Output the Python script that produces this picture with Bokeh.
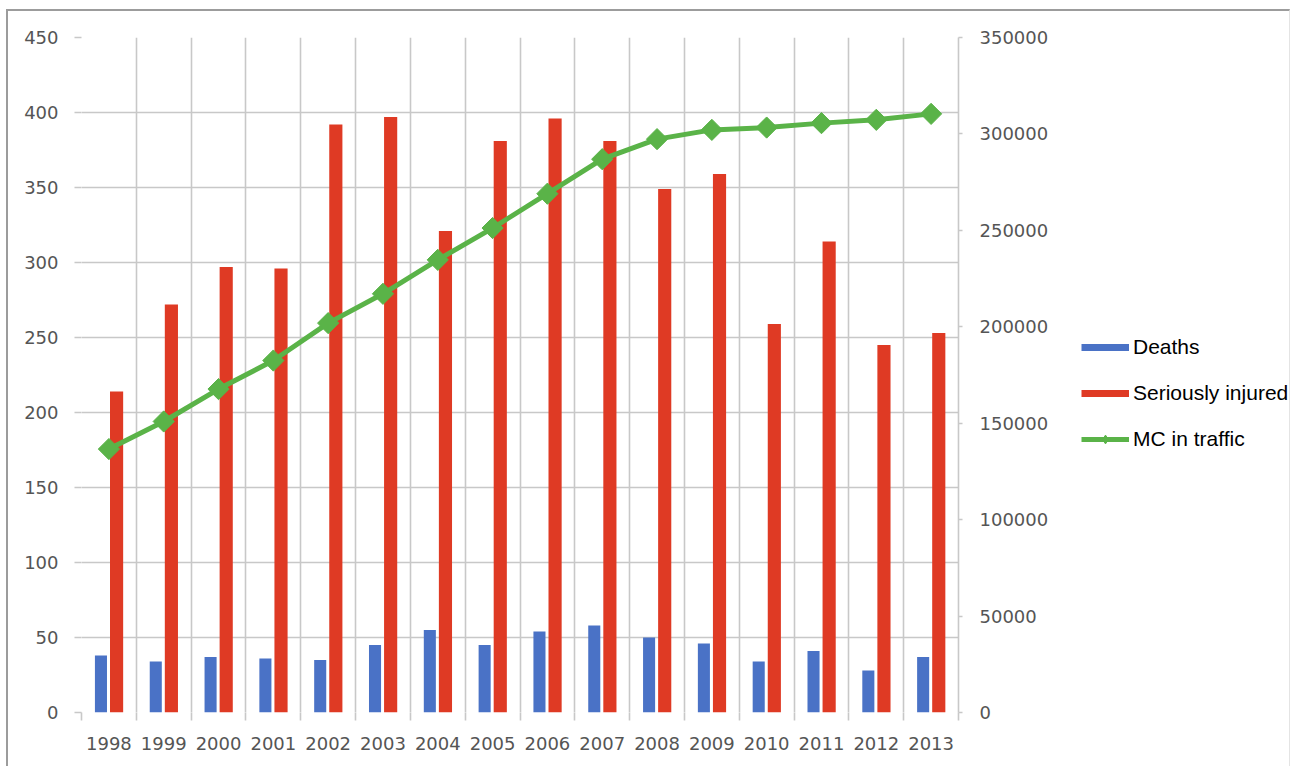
import numpy as np
from bokeh.plotting import figure
from bokeh.layouts import row
from bokeh.models import (ColumnDataSource, Range1d, LinearAxis, FixedTicker,
                          Legend, LegendItem, BasicTickFormatter)
from bokeh.embed import file_html
from bokeh.resources import INLINE

# ---- data ----
years = ["1998", "1999", "2000", "2001", "2002", "2003", "2004", "2005",
         "2006", "2007", "2008", "2009", "2010", "2011", "2012", "2013"]
deaths = [38, 34, 37, 36, 35, 45, 55, 45, 54, 58, 50, 46, 34, 41, 28, 37]
seriously_injured = [214, 272, 297, 296, 392, 397, 321, 381,
                     396, 381, 349, 359, 259, 314, 245, 253]
mc_in_traffic = [136600, 150900, 167700, 182500, 201900, 217100, 234700, 251200,
                 269000, 286900, 297300, 302100, 303300, 305600, 307300, 310400]
left_ticks = [0, 50, 100, 150, 200, 250, 300, 350, 400, 450]
right_ticks = [0, 50000, 100000, 150000, 200000, 250000, 300000, 350000]
series_names = ["Deaths", "Seriously injured", "MC in traffic"]

BLUE = "#4A72C6"
RED = "#DF3A24"
GREEN = "#5AB348"
GRID = "#C8C8C8"
TICK_TXT = "#555555"
FONT = "DejaVu Sans"

n = len(years)
centers = list(np.arange(n) + 0.5)
bounds = list(np.arange(n + 1).astype(float))

src = ColumnDataSource(dict(
    x=centers,
    x_d=[c - 0.145 for c in centers],
    x_s=[c + 0.14 for c in centers],
    deaths=deaths, injured=seriously_injured, mc=mc_in_traffic))

H = 755
p = figure(width=1046, height=H, output_backend="svg", toolbar_location=None,
           x_range=Range1d(0, n), y_range=Range1d(0, 450),
           min_border_left=73, min_border_top=26, min_border_right=96,
           min_border_bottom=54)
p.extra_y_ranges = {"mc": Range1d(0, 350000)}
p.outline_line_color = None
p.background_fill_color = "white"
p.border_fill_color = "white"

# grids
p.xgrid.ticker = FixedTicker(ticks=bounds)
p.ygrid.ticker = FixedTicker(ticks=left_ticks)
for g in (p.xgrid, p.ygrid):
    g.grid_line_color = GRID
    g.grid_line_width = 1.6

# x axis
xa = p.xaxis[0]
xa.ticker = FixedTicker(ticks=centers, minor_ticks=bounds)
xa.major_label_overrides = {c: y for c, y in zip(centers, years)}
xa.axis_line_color = None
xa.major_tick_line_color = None
xa.major_tick_out = 0
xa.major_tick_in = 0
xa.minor_tick_line_color = GRID
xa.minor_tick_line_width = 1.6
xa.minor_tick_out = 8
xa.minor_tick_in = 0
xa.major_label_standoff = 16

# left axis
ya = p.yaxis[0]
ya.ticker = FixedTicker(ticks=left_ticks)
ya.axis_line_color = None
ya.major_tick_line_color = GRID
ya.major_tick_line_width = 1.6
ya.major_tick_out = 7
ya.major_tick_in = 0
ya.minor_tick_line_color = None
ya.major_label_standoff = 16

# right axis
ra = LinearAxis(y_range_name="mc", ticker=FixedTicker(ticks=right_ticks),
                formatter=BasicTickFormatter(use_scientific=False))
ra.axis_line_color = GRID
ra.axis_line_width = 1.6
ra.major_tick_line_color = GRID
ra.major_tick_line_width = 1.6
ra.major_tick_out = 4
ra.major_tick_in = 0
ra.minor_tick_line_color = None
ra.major_label_standoff = 17
p.add_layout(ra, "right")

for ax in (xa, ya, ra):
    ax.major_label_text_font = FONT
    ax.major_label_text_font_size = "18px"
    ax.major_label_text_color = TICK_TXT

# bars
p.vbar(x="x_d", top="deaths", width=0.22, bottom=0, source=src,
       fill_color=BLUE, line_color=None)
p.vbar(x="x_s", top="injured", width=0.24, bottom=0, source=src,
       fill_color=RED, line_color=None)

# line on right axis
p.line(x="x", y="mc", source=src, y_range_name="mc",
       line_color=GREEN, line_width=5)
p.scatter(x="x", y="mc", source=src, y_range_name="mc",
          marker="square", angle=np.pi / 4, size=15,
          fill_color=GREEN, line_color=GREEN)

# ---- legend panel to the right (own canvas so it is not clipped) ----
lf = figure(width=235, height=H, output_backend="svg", toolbar_location=None,
            x_range=Range1d(0, 1), y_range=Range1d(0, 1),
            x_axis_location=None, y_axis_location=None,
            min_border=0)
lf.outline_line_color = None
lf.grid.visible = False
lf.background_fill_color = "white"
lf.border_fill_color = "white"

leg_d = lf.line(x=[np.nan], y=[np.nan], line_color=BLUE, line_width=7)
leg_s = lf.line(x=[np.nan], y=[np.nan], line_color=RED, line_width=7)
leg_l = lf.line(x=[np.nan], y=[np.nan], line_color=GREEN, line_width=5)
leg_m = lf.scatter(x=[np.nan], y=[np.nan], marker="diamond",
                   size=12, fill_color=GREEN, line_color=GREEN, line_width=1)

legend = Legend(items=[
    LegendItem(label=series_names[0], renderers=[leg_d]),
    LegendItem(label=series_names[1], renderers=[leg_s]),
    LegendItem(label=series_names[2], renderers=[leg_l, leg_m]),
], location=(27, 261))
legend.label_text_font = "Liberation Sans"
legend.label_text_font_size = "21px"
legend.label_text_color = "black"
legend.glyph_width = 48
legend.glyph_height = 22
legend.label_height = 22
legend.spacing = 22
legend.label_standoff = 4
legend.padding = 4
legend.margin = 0
legend.border_line_color = None
legend.background_fill_alpha = 0
lf.add_layout(legend)

layout = row(p, lf, spacing=0)
layout.styles = {"margin-top": "9px", "margin-left": "6px",
                 "border-top": "2px solid #9c9c9c",
                 "border-left": "2px solid #9c9c9c",
                 "border-right": "1px solid #e4e4e4"}

open("out.html", "w").write(file_html(layout, INLINE))
